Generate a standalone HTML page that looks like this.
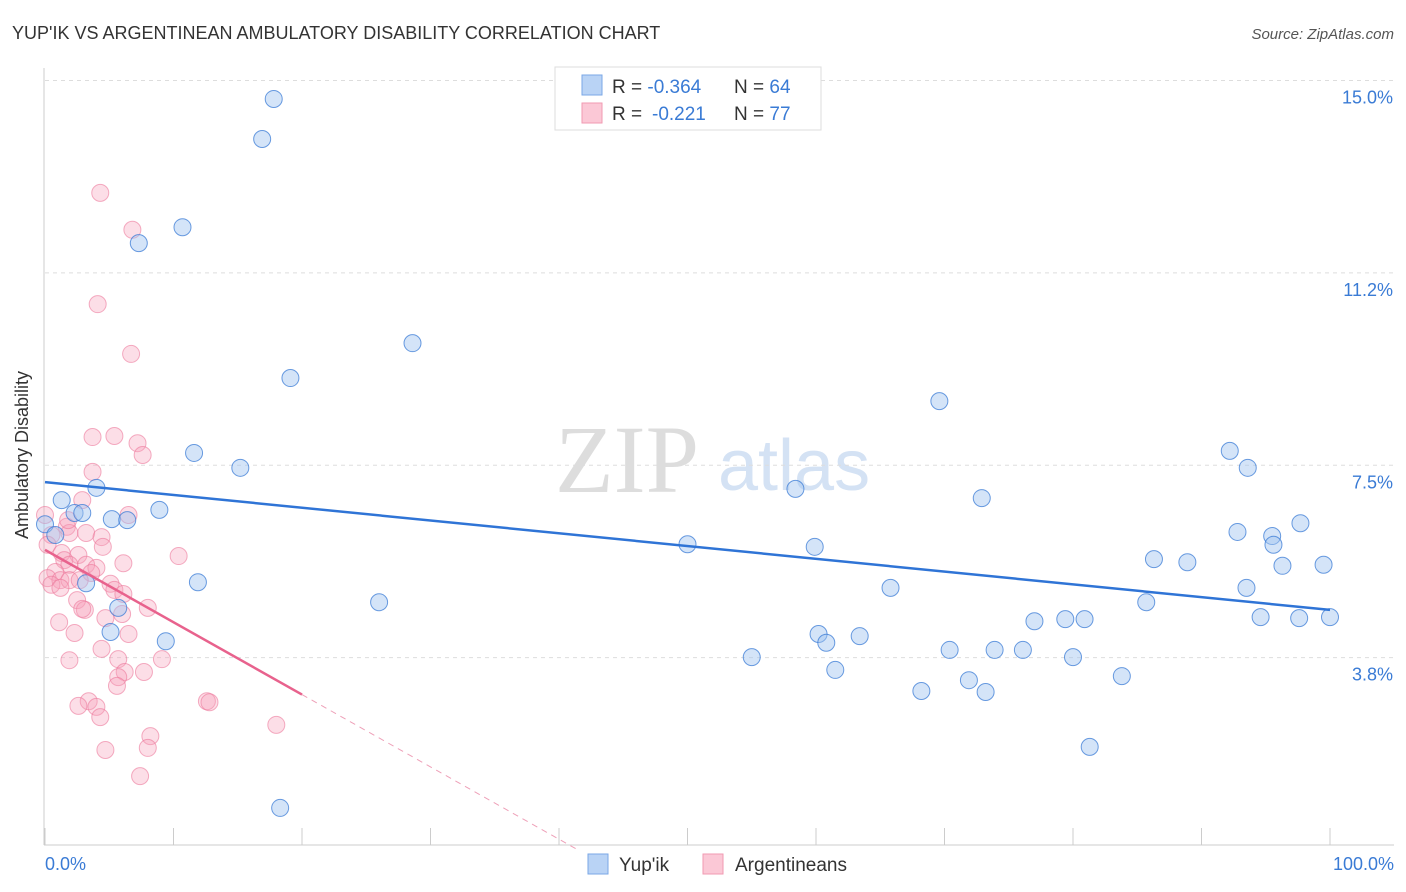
<!DOCTYPE html>
<html><head><meta charset="utf-8"><style>
body{margin:0;background:#fff;font-family:"Liberation Sans",sans-serif;}
svg{display:block}
</style></head><body>
<svg id="chart" width="1406" height="892">
<text x="12" y="39" font-size="18" fill="#333">YUP'IK VS ARGENTINEAN AMBULATORY DISABILITY CORRELATION CHART</text>
<text x="1394" y="39" font-size="15" fill="#555" font-style="italic" text-anchor="end">Source: ZipAtlas.com</text>
<g>
<text x="555" y="492" font-size="96" fill="#ddd" font-family="Liberation Serif,serif">ZIP</text>
<text x="718" y="490" font-size="72" fill="#d4e2f4">atlas</text>
</g>
<g id="grid"></g>
<line x1="44" y1="68" x2="44" y2="845" stroke="#ccc"/>
<line x1="44" y1="845" x2="1394" y2="845" stroke="#ccc"/>
<text x="28" y="455" font-size="18" fill="#333" transform="rotate(-90 28 455)" text-anchor="middle">Ambulatory Disability</text>
<text x="45" y="870" font-size="18" fill="#3a7bd5">0.0%</text>
<text x="1394" y="870" font-size="18" fill="#3a7bd5" text-anchor="end">100.0%</text>
<g id="pts"></g>
<g id="lines"></g>
<g>
<rect x="555" y="67" width="266" height="63" fill="#fff" stroke="#ddd"/>
<rect x="582" y="75" width="20" height="20" fill="#b9d3f5" stroke="#7aa7e6"/>
<rect x="582" y="103" width="20" height="20" fill="#fbc8d6" stroke="#f09ab2"/>
<text x="612" y="93" font-size="19" fill="#333">R = <tspan fill="#3a7bd5">-0.364</tspan><tspan x="734">N = </tspan><tspan fill="#3a7bd5">64</tspan></text>
<text x="612" y="120" font-size="19" fill="#333">R = <tspan x="652" fill="#3a7bd5">-0.221</tspan><tspan x="734">N = </tspan><tspan fill="#3a7bd5">77</tspan></text>
</g>
<g>
<rect x="588" y="854" width="20" height="20" fill="#b9d3f5" stroke="#7aa7e6"/>
<text x="619" y="871" font-size="19" fill="#333">Yup'ik</text>
<rect x="703" y="854" width="20" height="20" fill="#fbc8d6" stroke="#f09ab2"/>
<text x="735" y="871" font-size="19" fill="#333">Argentineans</text>
</g>
</svg>
<script>
const yTicks=[15,11.25,7.5,3.75];
const yTickLabels=["15.0%","11.2%","7.5%","3.8%"];
const xTicks=[0,10,20,30,40,50,60,70,80,90,100];
const blueX=[17.8,16.9,10.7,7.3,28.6,19.1,69.6,11.6,15.2,92.2,93.6,1.3,4.0,58.4,72.9,8.9,2.3,2.9,5.2,6.4,0,0.8,97.7,92.8,95.5,95.6,50.0,59.9,86.3,88.9,96.3,99.5,3.2,11.9,65.8,93.5,26.0,85.7,5.7,94.6,97.6,100,77.0,79.4,80.9,5.1,60.2,63.4,9.4,60.8,70.4,73.9,76.1,55.0,80.0,61.5,83.8,71.9,68.2,73.2,81.3,18.3];
const blueY=[14.64,13.86,12.14,11.83,9.88,9.20,8.75,7.74,7.45,7.78,7.45,6.82,7.06,7.04,6.86,6.63,6.57,6.57,6.45,6.43,6.35,6.14,6.37,6.20,6.12,5.95,5.96,5.91,5.67,5.61,5.54,5.56,5.20,5.22,5.11,5.11,4.83,4.83,4.72,4.54,4.52,4.54,4.46,4.50,4.50,4.25,4.21,4.17,4.07,4.04,3.90,3.90,3.90,3.76,3.76,3.51,3.39,3.31,3.10,3.08,2.01,0.82];
const pinkX=[4.3,6.8,4.1,6.7,3.7,5.4,7.2,7.6,3.7,2.9,0,1.7,1.9,0.5,3.2,4.4,6.5,4.5,0.2,1.3,2.6,1.5,1.9,3.2,6.1,10.4,4.0,0.8,3.6,0.2,1.2,1.9,0.5,1.2,2.7,5.1,5.4,2.5,3.1,2.9,8.0,6.0,4.7,1.1,2.3,6.5,4.4,9.1,5.7,1.9,6.2,5.7,7.7,5.6,3.4,2.6,4.0,12.6,12.8,4.3,18.0,8.2,8.0,4.7,7.4,6.1,1.8];
const pinkY=[12.81,12.09,10.64,9.67,8.05,8.07,7.93,7.70,7.37,6.82,6.53,6.30,6.18,6.14,6.18,6.10,6.53,5.91,5.95,5.79,5.75,5.65,5.56,5.56,5.59,5.73,5.50,5.42,5.40,5.30,5.26,5.26,5.17,5.11,5.26,5.19,5.07,4.87,4.68,4.70,4.72,4.60,4.52,4.44,4.23,4.21,3.92,3.72,3.72,3.70,3.47,3.37,3.47,3.20,2.90,2.81,2.79,2.90,2.88,2.59,2.44,2.22,1.99,1.95,1.44,4.99,6.43];
const blueTrend=[7.17,4.68];
const pinkTrend=[5.85,-0.141];
const X=v=>45+v*12.85, Y=v=>850-v*51.3;
const NS="http://www.w3.org/2000/svg";
function mk(t,a,p){const e=document.createElementNS(NS,t);for(const k in a)e.setAttribute(k,a[k]);p.appendChild(e);return e;}
const grid=document.getElementById('grid');
yTicks.forEach((t,i)=>{
 const l=mk('line',{x1:45,x2:1394,y1:Y(t),y2:Y(t),stroke:'#ddd','stroke-dasharray':'4,4'},grid);
 
 
 const tx=mk('text',{x:1393,y:Y(t)+23,'font-size':18,fill:'#3a7bd5','text-anchor':'end'},grid);
 tx.textContent=yTickLabels[i];
 
 
});
xTicks.forEach(t=>{
 const l=mk('line',{x1:X(t),x2:X(t),y1:828,y2:845,stroke:'#ccc'},grid);
 
 
});
const pts=document.getElementById('pts');
pinkX.forEach((x,i)=>{
 const c=mk('circle',{cx:X(x),cy:Y(pinkY[i]),r:8.5,fill:'rgba(246,160,186,0.35)',stroke:'rgba(236,120,155,0.6)','stroke-width':1},pts);
 
 
});
blueX.forEach((x,i)=>{
 const c=mk('circle',{cx:X(x),cy:Y(blueY[i]),r:8.5,fill:'rgba(160,196,240,0.45)',stroke:'rgba(58,123,213,0.75)','stroke-width':1},pts);
 
 
});
const lines=document.getElementById('lines');
const bl=mk('line',{x1:X(0),y1:Y(blueTrend[0]),x2:X(100),y2:Y(blueTrend[1]),stroke:'#2f74d6','stroke-width':2.5},lines);


const pEnd=20, pZero=-pinkTrend[0]/pinkTrend[1];
const pl=mk('line',{x1:X(0),y1:Y(pinkTrend[0]),x2:X(pEnd),y2:Y(pinkTrend[0]+pinkTrend[1]*pEnd),stroke:'#e8628d','stroke-width':2.5},lines);


const pd=mk('line',{x1:X(pEnd),y1:Y(pinkTrend[0]+pinkTrend[1]*pEnd),x2:X(pZero),y2:Y(0),stroke:'#eea0b8','stroke-width':1,'stroke-dasharray':'6,5'},lines);


</script>
</body></html>
